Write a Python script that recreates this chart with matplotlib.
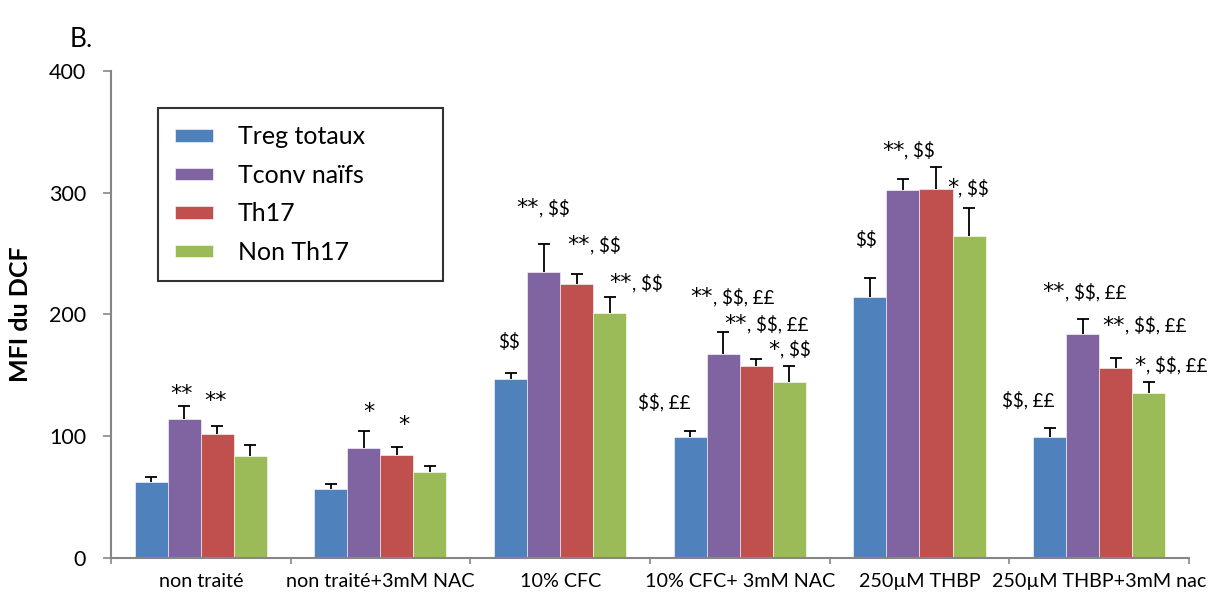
import numpy as np
import matplotlib
matplotlib.use("Agg")
import matplotlib.pyplot as plt
from matplotlib.offsetbox import TextArea, HPacker, AnnotationBbox

# =====================================
# Data
# =====================================

categories = [
    "non traité",
    "non traité+3mM NAC",
    "10% CFC",
    "10% CFC+ 3mM NAC",
    "250µM THBP",
    "250µM THBP+3mM nac",
]

series_names = ["Treg totaux", "Tconv naïfs", "Th17", "Non Th17"]

treg = [62.7, 56.4, 146.8, 99.6, 214.1, 99.1]
treg_err = [4.0, 4.0, 5.5, 4.7, 16.0, 7.4]

tconv = [113.9, 90.1, 235.2, 167.6, 302.3, 184.0]
tconv_err = [11.0, 14.0, 22.7, 17.8, 9.3, 12.3]

th17 = [101.6, 84.6, 224.8, 158.0, 302.8, 156.3]
th17_err = [7.0, 6.6, 8.5, 5.2, 18.6, 8.2]

nonth17 = [84.0, 70.4, 201.0, 144.3, 264.5, 135.5]
nonth17_err = [9.0, 5.5, 13.0, 13.7, 22.8, 9.3]

treg_sig = ["", "", "$$", "$$, ££", "$$", "$$, ££"]
tconv_sig = ["**", "*", "**, $$", "**, $$, ££", "**, $$", "**, $$, ££"]
th17_sig = ["**", "*", "**, $$", "**, $$, ££", "", "**, $$, ££"]
nonth17_sig = ["", "", "**, $$", "*, $$", "*, $$", "*, $$, ££"]

# =====================================
# Style / layout
# =====================================

plt.rcParams["font.family"] = ["Lato", "DejaVu Sans"]
plt.rcParams["text.parse_math"] = False

colors = ["#4F81BD", "#8064A2", "#C0504D", "#9BBB59"]
axis_gray = "#868686"

# label offsets in pixels from the top of each error bar (dx, dy to baseline)
sig_offsets = [
    [None, None, (-13, 26), (-52, 24), (-15, 33), (-48, 23)],
    [(-14, 6), (-1, 13), (-27, 30), (-33, 29), (-21, 22), (-40, 21)],
    [(-13, 19), (1, 16), (-9, 23), (-32, 29), None, (-13, 26)],
    [None, None, (0, 8), (-21, 10), (-22, 14), (-14, 10)],
]

values = [treg, tconv, th17, nonth17]
errors = [treg_err, tconv_err, th17_err, nonth17_err]
sigs = [treg_sig, tconv_sig, th17_sig, nonth17_sig]


def sig_box(txt):
    # stars drawn a bit larger, like the original Calibri asterisks
    stars = txt.split(",")[0] if txt.startswith("*") else ""
    rest = txt[len(stars):]
    parts = []
    if stars:
        parts.append(TextArea(stars, textprops=dict(family="DejaVu Sans",
                                                     fontsize=16)))
    if rest:
        parts.append(TextArea(rest, textprops=dict(fontsize=13.5)))
    return HPacker(children=parts, align="baseline", pad=0, sep=0)


# =====================================
# Plot
# =====================================

fig = plt.figure(figsize=(12.18, 5.95), dpi=100)
ax = fig.add_axes([0.0911, 0.0622, 0.8851, 0.8185])

x = np.arange(len(categories))
width = 0.1837

for k in range(4):
    pos = x + (k - 1.5) * width
    vals = np.array(values[k])
    errs = np.array(errors[k])
    ax.bar(
        pos,
        vals,
        width,
        color=colors[k],
        edgecolor="white",
        linewidth=0.4,
        label=series_names[k],
        zorder=2,
    )
    eb = ax.errorbar(
        pos,
        vals,
        yerr=[np.zeros_like(errs), errs],
        fmt="none",
        ecolor="black",
        elinewidth=1.3,
        capsize=4.5,
        capthick=1.3,
        zorder=3,
    )
    # only the upper cap is shown
    eb[1][0].set_visible(False)

    for i, txt in enumerate(sigs[k]):
        off = sig_offsets[k][i]
        if not txt or off is None:
            continue
        ab = AnnotationBbox(
            sig_box(txt),
            (pos[i], vals[i] + errs[i]),
            xybox=(off[0], off[1] - 4),
            xycoords="data",
            boxcoords="offset pixels",
            box_alignment=(0, 0),
            frameon=False,
            pad=0,
        )
        ax.add_artist(ab)

# axes
ax.set_xlim(-0.5, len(categories) - 0.5)
ax.set_ylim(0, 400)
ax.set_yticks([0, 100, 200, 300, 400])

ax.set_xticks(np.arange(len(categories) + 1) - 0.5)
ax.set_xticklabels([])
ax.set_xticks(x, minor=True)
ax.set_xticklabels(categories, minor=True)

ax.tick_params(axis="y", length=6, width=1.2, color=axis_gray,
               pad=12, labelsize=15.5)
ax.tick_params(axis="x", which="major", length=4.5, width=1.2,
               color=axis_gray)
ax.tick_params(axis="x", which="minor", length=0, pad=11, labelsize=14.2)

for side in ["top", "right"]:
    ax.spines[side].set_visible(False)
for side in ["left", "bottom"]:
    ax.spines[side].set_color(axis_gray)
    ax.spines[side].set_linewidth(1.5)

ax.set_ylabel("MFI du DCF", fontsize=18, fontweight="bold")
ax.yaxis.set_label_coords(-0.073, 0.5)

leg = ax.legend(
    loc="upper left",
    bbox_to_anchor=(0.0436, 0.585, 0.2644, 0.339),
    mode="expand",
    borderaxespad=0,
    fancybox=False,
    frameon=True,
    edgecolor="black",
    fontsize=18,
    handlelength=1.5,
    handleheight=0.4,
    handletextpad=1.0,
    labelspacing=0.62,
    borderpad=0.7,
)
leg.get_frame().set_linewidth(1.5)

fig.text(70 / 1218, 1 - 47 / 595, "B.", fontsize=19, va="baseline")

plt.savefig("out.png", dpi=100)
